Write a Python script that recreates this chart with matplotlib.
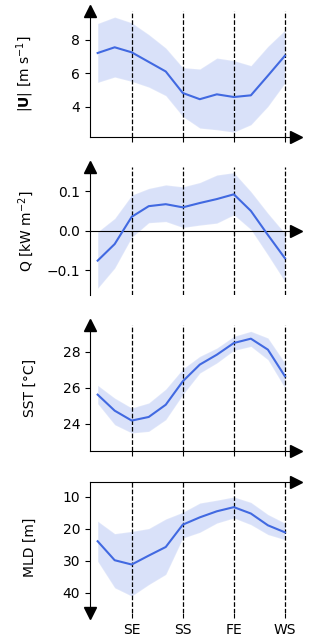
import matplotlib
matplotlib.use("Agg")
import matplotlib.pyplot as plt
import numpy as np

# Datos (12 pasos, fases SE, SS, FE, WS)
pasos = np.arange(12)
fases_pos = [2, 5, 8, 11]
fases_lab = ["SE", "SS", "FE", "WS"]

u_media = [7.20, 7.54, 7.24, 6.67, 6.10, 4.82, 4.45, 4.74, 4.58, 4.68, 5.85, 7.04]
u_sup = [8.96, 9.34, 9.00, 8.30, 7.50, 6.33, 6.25, 6.90, 6.75, 6.45, 7.60, 8.56]
u_inf = [5.45, 5.77, 5.51, 5.17, 4.66, 3.42, 2.73, 2.63, 2.49, 2.93, 4.02, 5.41]

q_media = [-0.076, -0.034, 0.035, 0.062, 0.067, 0.059, 0.070, 0.080, 0.092, 0.050, -0.011, -0.070]
q_sup = [-0.003, 0.031, 0.090, 0.107, 0.116, 0.111, 0.122, 0.141, 0.147, 0.099, 0.044, -0.007]
q_inf = [-0.146, -0.095, -0.017, 0.020, 0.023, 0.008, 0.014, 0.019, 0.040, 0.003, -0.062, -0.129]

sst_media = [25.63, 24.74, 24.19, 24.39, 25.07, 26.37, 27.30, 27.85, 28.50, 28.74, 28.13, 26.65]
sst_sup = [26.15, 25.44, 24.89, 25.17, 25.94, 27.06, 27.76, 28.22, 28.87, 29.15, 28.78, 27.39]
sst_inf = [25.13, 23.96, 23.50, 23.59, 24.24, 25.63, 26.83, 27.39, 28.09, 28.31, 27.57, 26.00]

mld_media = [23.9, 29.85, 31.2, 28.4, 25.7, 18.7, 16.4, 14.5, 13.2, 15.2, 18.9, 21.1]
mld_sup = [17.6, 21.5, 20.8, 19.9, 16.9, 14.8, 11.9, 11.0, 10.0, 11.7, 15.5, 18.2]
mld_inf = [30.2, 38.5, 41.1, 37.5, 34.3, 22.9, 21.1, 18.2, 16.6, 18.7, 21.8, 23.4]

color = "royalblue"

fig = plt.figure(figsize=(3.23, 6.36), dpi=100)
izq, ancho = 0.2786, 0.6378
posiciones = [
    [izq, 0.7846, ancho, 0.1981],
    [izq, 0.5362, ancho, 0.2017],
    [izq, 0.2909, ancho, 0.1981],
    [izq, 0.0362, ancho, 0.2060],
]

paneles = [
    (u_media, u_sup, u_inf, r"$|\mathbf{U}|$ [m s$^{-1}$]", (2.2, 9.7), [4, 6, 8]),
    (q_media, q_sup, q_inf, r"Q [kW m$^{-2}$]", (-0.163, 0.162), [-0.1, 0.0, 0.1]),
    (sst_media, sst_sup, sst_inf, r"SST [°C]", (22.5, 29.5), [24, 26, 28]),
    (mld_media, mld_sup, mld_inf, r"MLD [m]", (46.4, 5.3), [10, 20, 30, 40]),
]

for i, (media, sup, inf, etiqueta, lims, yticks) in enumerate(paneles):
    ax = fig.add_axes(posiciones[i])
    ax.fill_between(pasos, inf, sup, facecolor=color, edgecolor="white", alpha=0.2, lw=1.0, zorder=1)
    ax.plot(pasos, media, color=color, lw=1.5, zorder=3)
    for xp in fases_pos:
        ax.axvline(xp, color="black", ls="--", lw=0.9, zorder=2)  # lineas de fase

    ax.set_xlim(-0.45, 11.65)
    ax.set_ylim(*lims)
    ax.set_yticks(yticks)
    ax.set_xticks(fases_pos)
    ax.set_ylabel(etiqueta, fontsize=10)
    ax.yaxis.set_label_coords(-0.26, 0.5)
    ax.tick_params(labelsize=10)
    ax.spines["right"].set_visible(False)

    if i < 3:
        ax.set_xticklabels([])
        ax.spines["top"].set_visible(False)
        if i == 1:
            ax.spines["bottom"].set_position(("data", 0))  # eje x en cero
            ax.set_yticklabels(["\u22120.1", "0.0", "0.1"])
            ax.plot(1, 0, ">k", ms=8, transform=ax.get_yaxis_transform(), clip_on=False)
        else:
            ax.plot(1, 0, ">k", ms=8, transform=ax.transAxes, clip_on=False)
        ax.plot(0, 1, "^k", ms=8, transform=ax.transAxes, clip_on=False)
    else:
        ax.set_xticklabels(fases_lab)
        ax.spines["bottom"].set_visible(False)
        ax.plot(1, 1, ">k", ms=8, transform=ax.transAxes, clip_on=False)
        ax.plot(0, 0, "vk", ms=8, transform=ax.transAxes, clip_on=False)

fig.savefig("out.png", dpi=100)
